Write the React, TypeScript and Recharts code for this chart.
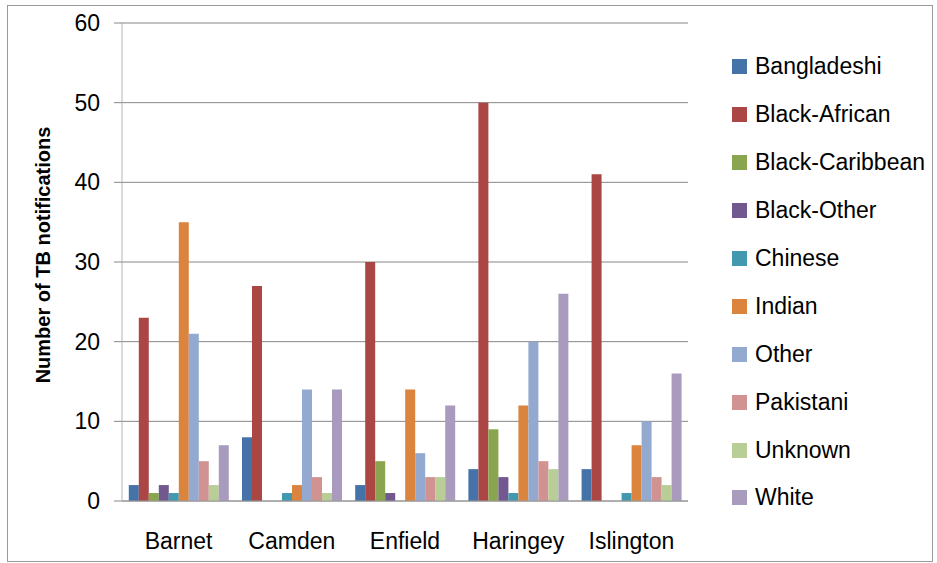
import { Bar, BarChart, CartesianGrid, Legend, XAxis, YAxis } from "recharts";

const boroughs = ["Barnet", "Camden", "Enfield", "Haringey", "Islington"];

const bangladeshi = [2, 8, 2, 4, 4];
const blackAfrican = [23, 27, 30, 50, 41];
const blackCaribbean = [1, 0, 5, 9, 0];
const blackOther = [2, 0, 1, 3, 0];
const chinese = [1, 1, 0, 1, 1];
const indian = [35, 2, 14, 12, 7];
const other = [21, 14, 6, 20, 10];
const pakistani = [5, 3, 3, 5, 3];
const unknown = [2, 1, 3, 4, 2];
const white = [7, 14, 12, 26, 16];

const yTicks = [0, 10, 20, 30, 40, 50, 60];
const edgeTicks = [0, 1, 2, 3, 4, 5];

const series = [
  { name: "Bangladeshi", values: bangladeshi, color: "#4572A7" },
  { name: "Black-African", values: blackAfrican, color: "#AA4643" },
  { name: "Black-Caribbean", values: blackCaribbean, color: "#89A54E" },
  { name: "Black-Other", values: blackOther, color: "#71588F" },
  { name: "Chinese", values: chinese, color: "#4198AF" },
  { name: "Indian", values: indian, color: "#DB843D" },
  { name: "Other", values: other, color: "#93A9CF" },
  { name: "Pakistani", values: pakistani, color: "#D19392" },
  { name: "Unknown", values: unknown, color: "#B9CD96" },
  { name: "White", values: white, color: "#A99BBD" },
];

const data = boroughs.map((borough, i) => {
  const row: Record<string, string | number> = { borough };
  series.forEach((s) => {
    row[s.name] = s.values[i];
  });
  return row;
});

const font = "'Liberation Sans', Arial, sans-serif";

function LegendList({ payload }: { payload?: any[] }) {
  return (
    <div style={{ fontFamily: font, fontSize: 23, color: "#000" }}>
      {(payload || []).map((item) => (
        <div
          key={item.value}
          style={{ height: 47.9, display: "flex", alignItems: "center" }}
        >
          <span
            style={{
              width: 15,
              height: 15,
              background: item.color,
              marginRight: 8,
              display: "inline-block",
            }}
          />
          <span>{item.value}</span>
        </div>
      ))}
    </div>
  );
}

function YLabel({ viewBox }: any) {
  const cx = 35;
  const cy = viewBox.y + viewBox.height / 2 - 7;
  return (
    <text
      x={cx}
      y={cy}
      transform={`rotate(-90 ${cx} ${cy})`}
      textAnchor="middle"
      dominantBaseline="central"
      fontFamily={font}
      fontSize={20}
      fontWeight="bold"
      fill="#000"
    >
      Number of TB notifications
    </text>
  );
}

export default function App() {
  return (
    <div
      style={{
        position: "absolute",
        left: 7,
        top: 5,
        width: 926,
        height: 557,
        boxSizing: "border-box",
        border: "1px solid #9a9a9a",
        background: "#fff",
      }}
    >
      <BarChart
        width={924}
        height={555}
        data={data}
        margin={{ top: 17, right: 244, bottom: 0, left: 54 }}
        barCategoryGap="6%"
        barGap={0}
      >
        <CartesianGrid vertical={false} stroke="#868686" />
        <XAxis
          xAxisId="edges"
          type="number"
          domain={[0, 5]}
          ticks={edgeTicks}
          allowDataOverflow
          height={0}
          axisLine={false}
          tick={false}
          tickSize={7}
          tickLine={{ stroke: "#9a9a9a" }}
        />
        <XAxis
          dataKey="borough"
          height={60}
          axisLine={{ stroke: "#9a9a9a" }}
          tickLine={false}
          tickSize={0}
          tickMargin={32}
          tick={{ fill: "#000", fontSize: 23, fontFamily: font }}
        />
        <YAxis
          width={60}
          domain={[0, 60]}
          ticks={yTicks}
          axisLine={{ stroke: "#b3b3b3" }}
          tickLine={{ stroke: "#868686" }}
          tickSize={8}
          tickMargin={14}
          tick={{ fill: "#000", fontSize: 23, fontFamily: font }}
          label={{ content: YLabel }}
        />
        <Legend
          layout="vertical"
          align="center"
          verticalAlign="middle"
          content={LegendList}
          wrapperStyle={{ left: 724, top: 37, width: 200 }}
        />
        {series.map((s) => (
          <Bar
            key={s.name}
            dataKey={s.name}
            fill={s.color}
            isAnimationActive={false}
          />
        ))}
      </BarChart>
    </div>
  );
}
